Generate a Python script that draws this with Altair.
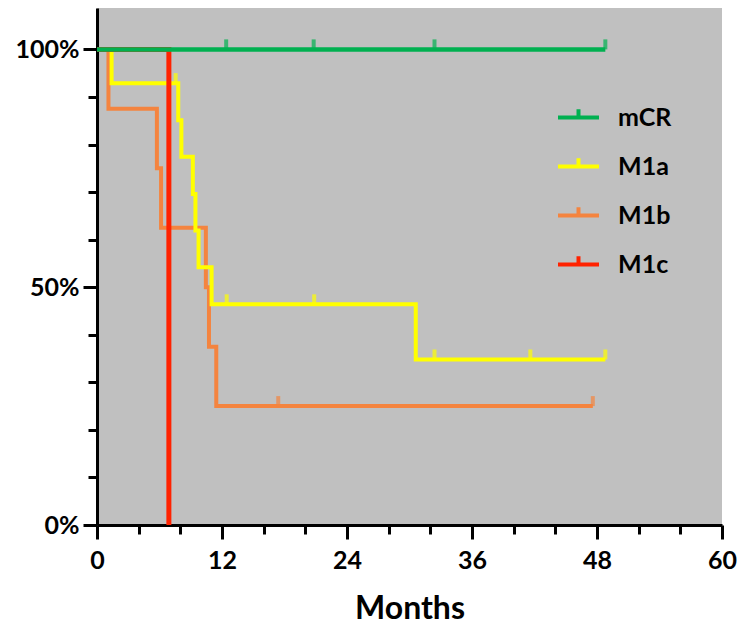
import altair as alt
import pandas as pd

# ---- data ----
groups = ["mCR", "M1a", "M1b", "M1c"]
colors = ["#00b050", "#ffff00", "#f4843f", "#ff2200"]
draw_order = ["M1b", "M1a", "M1c", "mCR"]
widths = {"mCR": 4.5, "M1a": 4, "M1b": 4, "M1c": 5}

mcr_t = [0, 48.8]
mcr_s = [100, 100]
m1a_t = [0, 1.4, 7.8, 8.1, 9.2, 9.45, 9.75, 11.0, 30.6, 48.8]
m1a_s = [100, 92.9, 85.1, 77.4, 69.6, 61.9, 54.2, 46.4, 34.8, 34.8]
m1b_t = [0, 1.1, 5.75, 6.15, 10.45, 10.75, 11.45, 47.6]
m1b_s = [100, 87.5, 75, 62.5, 50, 37.5, 25, 25]
m1c_t = [0, 6.9]
m1c_s = [100, 0]

mcr_cens_t = [12.4, 20.8, 32.4, 48.8]
mcr_cens_s = [100, 100, 100, 100]
m1a_cens_t = [7.55, 12.45, 20.85, 32.4, 41.6, 48.8]
m1a_cens_s = [92.9, 46.4, 46.4, 34.8, 34.8, 34.8]
m1b_cens_t = [17.4, 47.6]
m1b_cens_s = [25, 25]

x_major = [0, 12, 24, 36, 48, 60]
x_minor = [4, 8, 16, 20, 28, 32, 40, 44, 52, 56]
y_major = [0, 50, 100]
y_minor = [10, 20, 30, 40, 60, 70, 80, 90]

# ---- tables ----
color_of = dict(zip(groups, colors))
curve_rows = []
for g, ts, ss in [("mCR", mcr_t, mcr_s), ("M1a", m1a_t, m1a_s),
                  ("M1b", m1b_t, m1b_s), ("M1c", m1c_t, m1c_s)]:
    for i, (t, s) in enumerate(zip(ts, ss)):
        curve_rows.append({"Group": g, "t": t, "s": s, "i": i})
curves = pd.DataFrame(curve_rows)

cens_rows = []
for g, ts, ss in [("M1b", m1b_cens_t, m1b_cens_s), ("M1a", m1a_cens_t, m1a_cens_s),
                  ("mCR", mcr_cens_t, mcr_cens_s)]:
    for t, s in zip(ts, ss):
        cens_rows.append({"Group": g, "t": t, "s": s, "hex": color_of[g]})
cens = pd.DataFrame(cens_rows)

xscale = alt.Scale(domain=[0, 60], nice=False, zero=False)
yscale = alt.Scale(domain=[0, 108.7], nice=False)
cscale = alt.Scale(domain=groups, range=colors)

major_x = alt.Axis(orient="bottom", values=x_major, tickSize=14, labelPadding=9,
                   labelFlush=False, title="Months", titlePadding=20, format="d")
minor_x = alt.Axis(orient="bottom", values=x_minor, tickSize=9, labels=False,
                   domain=False, title=None)
major_y = alt.Axis(orient="left", values=y_major, tickSize=14, labelPadding=4,
                   labelFlush=False, labelExpr="datum.value + '%'", title=None)
minor_y = alt.Axis(orient="left", values=y_minor, tickSize=9, labels=False,
                   domain=False, title=None)

legend = alt.Legend(orient="none", legendX=459, legendY=87, title=None,
                    symbolType="M-1,0H1M0,0V-0.4", symbolSize=1681,
                    symbolStrokeWidth=4, labelFont="Lato", labelFontSize=25,
                    labelFontWeight="bold", labelColor="black", labelOffset=17,
                    rowPadding=13, padding=0)

layers = []
for k, g in enumerate(draw_order):
    first = k == 0
    layers.append(
        alt.Chart(curves)
        .transform_filter(alt.datum.Group == g)
        .mark_line(interpolate="step-after", strokeWidth=widths[g])
        .encode(
            x=alt.X("t:Q", scale=xscale, axis=major_x if first else None),
            y=alt.Y("s:Q", scale=yscale, axis=major_y if first else None),
            color=alt.Color("Group:N", scale=cscale, legend=legend if first else None),
            order="i:Q",
        )
    )

ticks = (
    alt.Chart(cens)
    .mark_tick(orient="vertical", size=10, thickness=4, yOffset=-5)
    .encode(
        x=alt.X("t:Q", scale=xscale, axis=minor_x),
        y=alt.Y("s:Q", scale=yscale, axis=minor_y),
        fill=alt.Fill("hex:N", scale=None),
    )
)
layers.append(ticks)

chart = (
    alt.layer(*layers)
    .resolve_axis(x="independent", y="independent")
    .properties(width=625, height=517,
                autosize=alt.AutoSizeParams(type="none"),
                padding={"left": 89, "top": 0, "right": 15, "bottom": 100})
    .configure_view(fill="#c0c0c0", strokeWidth=0)
    .configure_axis(domainColor="black", domainWidth=3, tickColor="black",
                    tickWidth=3, labelFont="Lato", labelFontSize=25,
                    labelFontWeight="bold", labelColor="black",
                    titleFont="Lato", titleFontSize=32, titleFontWeight="bold",
                    titleColor="black", grid=False)
)

chart.save("out.html", embed_options={"renderer": "svg", "actions": False})
